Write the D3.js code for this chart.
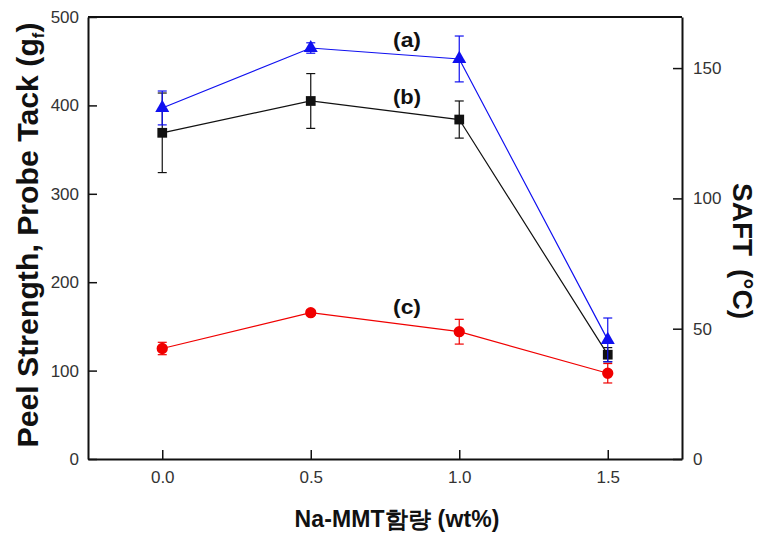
<!DOCTYPE html>
<meta charset="utf-8">
<style>
body { margin: 0; background: #fff; }
svg { display: block; font-family: "Liberation Sans", Arial, sans-serif; }
.axis path { stroke: #111; stroke-width: 2; }
.axis line { stroke: #111; stroke-width: 1.5; }
.axis text { font-size: 17px; fill: #333; }
.lbl { font-weight: bold; fill: #111; }
</style>
<body>
<div id="chart"></div>
<script src="https://cdnjs.cloudflare.com/ajax/libs/d3/7.8.5/d3.min.js"></script>
<script>
// data
var content = [0.0, 0.5, 1.0, 1.5];
var xTicks = [0.0, 0.5, 1.0, 1.5];
var leftTicks = [0, 100, 200, 300, 400, 500];
var rightTicks = [0, 50, 100, 150];

// (a) SAFT, right axis (C)
var saft = [134.7, 157.7, 153.5, 45.7];
var saftErr = [6.5, 2, 8.8, 8.4];
// (b) probe tack, left axis (gf)
var tack = [369, 405, 384, 118];
var tackErr = [45, 31, 21, 8];
// (c) peel strength, left axis (gf)
var peel = [125, 165.5, 144, 97];
var peelErr = [7, 3, 14, 11];

var width = 760, height = 541;
var margin = { top: 17, right: 78, bottom: 82, left: 88 };

var svg = d3.select("#chart").append("svg")
    .attr("width", width).attr("height", height);

var x = d3.scaleLinear().domain([-0.25, 1.75]).range([margin.left, width - margin.right]);
var yL = d3.scaleLinear().domain([0, 500]).range([height - margin.bottom, margin.top]);
var yR = d3.scaleLinear().domain([0, 169.6]).range([height - margin.bottom, margin.top]);

// frame top line
svg.append("line")
    .attr("x1", margin.left).attr("x2", width - margin.right)
    .attr("y1", margin.top).attr("y2", margin.top)
    .attr("stroke", "#111").attr("stroke-width", 2);

svg.append("g").attr("class", "axis")
    .attr("transform", "translate(0," + (height - margin.bottom) + ")")
    .call(d3.axisBottom(x).tickValues(xTicks).tickFormat(d3.format(".1f"))
        .tickSizeInner(-9).tickSizeOuter(0).tickPadding(12));

svg.append("g").attr("class", "axis")
    .attr("transform", "translate(" + margin.left + ",0)")
    .call(d3.axisLeft(yL).tickValues(leftTicks)
        .tickSizeInner(-9).tickSizeOuter(0).tickPadding(9));

svg.append("g").attr("class", "axis")
    .attr("transform", "translate(" + (width - margin.right) + ",0)")
    .call(d3.axisRight(yR).tickValues(rightTicks)
        .tickSizeInner(-9).tickSizeOuter(0).tickPadding(11));

function series(vals, errs, yScale, color, shape, size) {
    var pts = content.map(function (c, i) { return { x: c, y: vals[i], e: errs[i] }; });
    var g = svg.append("g");
    g.append("path").datum(pts)
        .attr("fill", "none").attr("stroke", color).attr("stroke-width", 1.2)
        .attr("d", d3.line().x(function (d) { return x(d.x); }).y(function (d) { return yScale(d.y); }));
    var eb = g.selectAll(".eb").data(pts).enter().append("g");
    eb.append("line")
        .attr("x1", function (d) { return x(d.x); }).attr("x2", function (d) { return x(d.x); })
        .attr("y1", function (d) { return yScale(d.y - d.e); })
        .attr("y2", function (d) { return yScale(d.y + d.e); })
        .attr("stroke", color).attr("stroke-width", 1.2);
    [-1, 1].forEach(function (s) {
        eb.append("line")
            .attr("x1", function (d) { return x(d.x) - 4.5; }).attr("x2", function (d) { return x(d.x) + 4.5; })
            .attr("y1", function (d) { return yScale(d.y + s * d.e); })
            .attr("y2", function (d) { return yScale(d.y + s * d.e); })
            .attr("stroke", color).attr("stroke-width", 1.2);
    });
    g.selectAll(".pt").data(pts).enter().append("path")
        .attr("transform", function (d) { return "translate(" + x(d.x) + "," + yScale(d.y) + ")"; })
        .attr("d", d3.symbol().type(shape).size(size))
        .attr("fill", color);
}

series(tack, tackErr, yL, "#111", d3.symbolSquare, 95);
series(saft, saftErr, yR, "#1010f0", d3.symbolTriangle, 85);
series(peel, peelErr, yL, "#f00000", d3.symbolCircle, 100);

// series labels
[["(a)", 47], ["(b)", 104], ["(c)", 314]].forEach(function (l) {
    svg.append("text").attr("class", "lbl").attr("x", 393).attr("y", l[1])
        .attr("textLength", 28).attr("lengthAdjust", "spacingAndGlyphs")
        .style("font-size", "21px").text(l[0]);
});

// axis titles
var lt = svg.append("text").attr("class", "lbl")
    .attr("transform", "translate(38,235) rotate(-90)")
    .attr("text-anchor", "middle").style("font-size", "29px")
    .attr("textLength", 425).attr("lengthAdjust", "spacingAndGlyphs");
lt.append("tspan").text("Peel Strength, Probe Tack (g");
lt.append("tspan").attr("dy", 6).style("font-size", "16px").text("f");
lt.append("tspan").attr("dy", -6).text(")");

var rt = svg.append("text").attr("class", "lbl")
    .attr("transform", "translate(733,251) rotate(90)")
    .attr("text-anchor", "middle").style("font-size", "28px");
rt.append("tspan").text("SAFT");
rt.append("tspan").attr("dx", 5).text(" (\u00B0C)");

svg.append("text").attr("class", "lbl")
    .attr("x", 397).attr("y", 527).attr("text-anchor", "middle")
    .style("font-size", "23px")
    .attr("textLength", 205).attr("lengthAdjust", "spacing")
    .text("Na-MMT\uD568\uB7C9 (wt%)");
</script>
</body>
</html>
